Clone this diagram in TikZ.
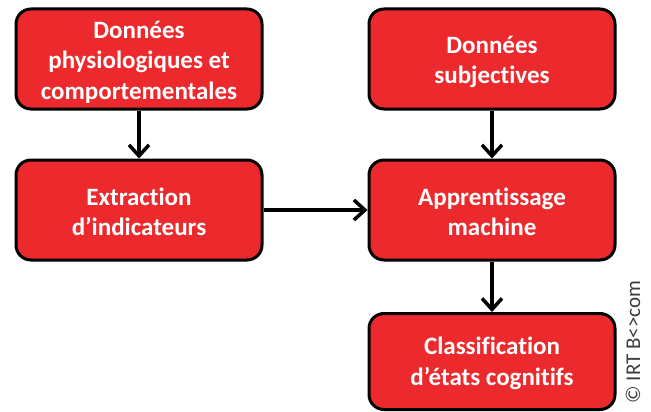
\documentclass[tikz,border=0pt]{standalone}
\usepackage{fontspec}
\setmainfont{Carlito}[Ligatures={CommonOff}]
\usetikzlibrary{arrows.meta}
\definecolor{boxred}{RGB}{236,41,44}
\definecolor{copygray}{RGB}{60,60,60}
\tikzset{
  box/.style={draw=black, line width=3pt, fill=boxred, rounded corners=15pt,
    minimum width=246pt, minimum height=100pt, inner sep=0pt},
  boxtext/.style={align=center, text=white, inner sep=0pt,
    font=\fontsize{25}{30.5}\selectfont\bfseries},
  conn/.style={line width=3.5pt, -{Straight Barb[length=11pt,width=20pt,line width=3.5pt]}}
}
\begin{document}
\begin{tikzpicture}[x=1pt,y=-1pt]
\useasboundingbox (0,0) rectangle (651,412);
\node[box] (donphys) at (139,59) {};
\node[boxtext] (donphys-t) at ([yshift=-3pt]donphys.center) {Données\\physiologiques et\\comportementales};
\node[box] (donsubj) at (492,59) {};
\node[boxtext] (donsubj-t) at ([yshift=-3pt]donsubj.center) {Données\\subjectives};
\node[box] (extr) at (139,210) {};
\node[boxtext] (extr-t) at ([yshift=-2pt]extr.center) {Extraction\\d’indicateurs};
\node[box] (appr) at (492,210) {};
\node[boxtext] (appr-t) at ([yshift=-2pt]appr.center) {Apprentissage\\machine};
\node[box, minimum height=96pt] (classif) at (492,361.5) {};
\node[boxtext] (classif-t) at ([yshift=-2pt]classif.center) {Classification\\d’états cognitifs};
\draw[conn] (donphys) -- (extr);
\draw[conn] (donsubj) -- (appr);
\draw[conn] (extr) -- (appr);
\draw[conn] (appr) -- (classif);
\node[rotate=90, text=copygray, font=\fontsize{21}{24}\selectfont, inner sep=0pt] (copy) at (633,342) {© IRT B<>com};
\end{tikzpicture}
\end{document}
